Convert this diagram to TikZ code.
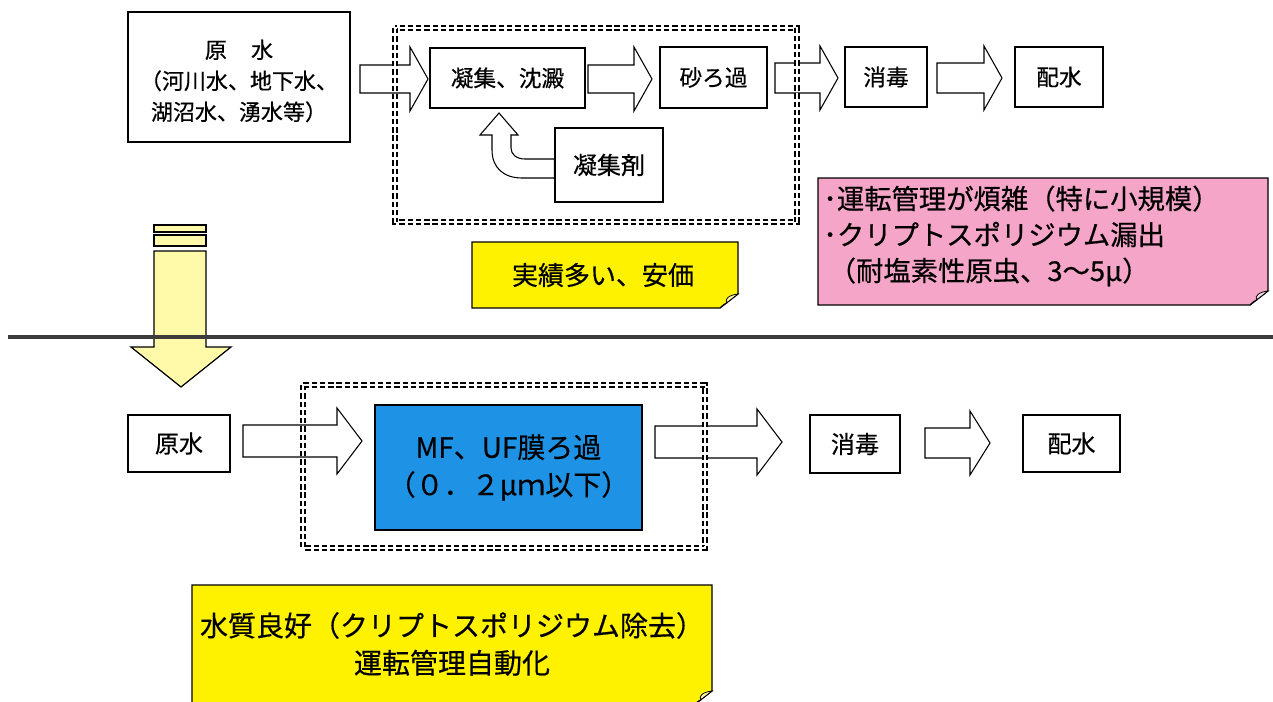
\documentclass[tikz,border=0pt]{standalone}
\usepackage{fontspec}
\setmainfont{Noto Sans CJK JP}[FakeBold=0.5]
\definecolor{notey}{RGB}{255,242,0}
\definecolor{pinknote}{RGB}{245,165,200}
\definecolor{membrane}{RGB}{30,146,228}
\definecolor{lighty}{RGB}{255,250,170}
\definecolor{rule}{RGB}{60,60,60}
\newcommand\blockarrow[6]{%
  \draw[barrow] (#1,#3-#4) -- (#2-#6,#3-#4) -- (#2-#6,#3-#5) -- (#2,#3) --
    (#2-#6,#3+#5) -- (#2-#6,#3+#4) -- (#1,#3+#4) -- cycle;}
\newcommand\stickynote[5]{%
  \draw[fill=#5, line width=0.9pt] (#1,#2) -- (#3,#2) -- (#3,#4-14) -- (#3-18,#4) -- (#1,#4) -- cycle;
  \draw[fill=#5!35!white, line width=0.6pt] (#3,#4-14) .. controls (#3-9,#4-13) and (#3-14,#4-9) .. (#3-11,#4-5)
    .. controls (#3-14,#4-4) .. (#3-18,#4) -- cycle;}
\begin{document}
\begin{tikzpicture}[x=0.75pt,y=-0.75pt,
  box/.style={draw, line width=0.9pt, fill=white, inner sep=0pt, align=center},
  sz/.style 2 args={minimum width=#1*0.75pt, minimum height=#2*0.75pt},
  barrow/.style={draw, line width=0.8pt, fill=white, line join=miter},
  dbox/.style={draw, line width=1.0pt, double distance=2pt, dash pattern=on 4pt off 2.2pt},
  f21/.style={font=\fontsize{16.5}{23.25}\selectfont},
  f23/.style={font=\fontsize{17}{22}\selectfont},
  f24/.style={font=\fontsize{18}{24}\selectfont},
  f26/.style={font=\fontsize{19.5}{24.75}\selectfont},
  fpink/.style={font=\fontsize{20.5}{27}\selectfont},
  f28/.style={font=\fontsize{21}{28}\selectfont}]
\useasboundingbox (0,0) rectangle (1273,701);

% ---------- top row ----------
\node[box, sz={222}{130}] (raw1) at (239,77) {};
\node[f21, align=center, inner sep=0pt] (raw1t) at (239,81) {原\hspace{1.1em}水\\（河川水、地下水、\\湖沼水、湧水等）};
\node[box, sz={155}{60}, f23] (coag) at (507.5,78) {凝集、沈澱};
\node[box, sz={107}{61}, f23] (sand) at (713.5,77.5) {砂ろ過};
\node[box, sz={82}{60}, f23] (dis1) at (886,77) {消毒};
\node[box, sz={88}{60}, f23] (dist1) at (1059,77) {配水};
\node[box, sz={108}{74}, f24] (agent) at (609,165) {凝集剤};

\blockarrow{360}{428}{79}{14}{32}{18}
\blockarrow{588}{652}{79}{14}{32}{18}
\blockarrow{775}{838}{78}{15}{32}{18}
\blockarrow{937}{1002}{78}{15}{32}{18}

% U-turn arrow from agent to coag
\draw[barrow] (agent.west |- 0,178) -- (522,178) .. controls (504,178) and (492,168) .. (492,150)
  -- (492,135) -- (480,135) -- (499,113) -- (518,135) -- (511,135) -- (511,148)
  .. controls (511,154) and (516,159) .. (525,159) -- (agent.west |- 0,159) -- cycle;

\draw[dbox] (395,28) rectangle (797,222);

% notes
\stickynote{472}{242}{738}{308}{notey}
\node[f26] (n1) at (603,275) {実績多い、安価};
\stickynote{818}{178}{1268}{305}{pinknote}
\node[fpink, anchor=west, align=left, inner sep=0pt] (n2) at (823,236)
  {･運転管理が煩雑（特に小規模）\\･クリプトスポリジウム漏出\\\hspace{0.2em}（耐塩素性原虫、3～5μ）};

% down arrow
\draw[fill=lighty, line width=0.9pt] (154,225) rectangle (206,232);
\draw[fill=lighty, line width=0.9pt] (154,235) rectangle (206,246);
\draw[fill=lighty, line width=0.9pt] (154,251) -- (206,251) -- (206,347) -- (231,347) -- (181,387)
  -- (131,347) -- (154,347) -- cycle;

\coordinate (ruleL) at (8,337);
\coordinate (ruleR) at (1273,337);
\draw[rule, line width=2.4pt] (ruleL) -- (ruleR);

% ---------- lower row ----------
\node[box, sz={102}{57}, f24] (raw2) at (179,443.5) {原水};
\node[box, sz={267}{125}, f28, fill=membrane] (mf) at (508.5,467.5) {MF、UF膜ろ過\\（０．２μｍ以下）};
\node[box, sz={90}{58}, f24] (dis2) at (855,444) {消毒};
\node[box, sz={97}{57}, f24] (dist2) at (1071.5,443.5) {配水};

\blockarrow{243}{362}{441}{16}{33}{25}
\blockarrow{655}{782}{442}{16}{33}{25}
\blockarrow{925}{990}{443}{15}{32}{20}

\draw[dbox] (303,385) rectangle (705,548);

\stickynote{192}{585}{712}{705}{notey}
\node[f28, align=center] (n3) at (452,644) {水質良好（クリプトスポリジウム除去）\\運転管理自動化};
\end{tikzpicture}
\end{document}
